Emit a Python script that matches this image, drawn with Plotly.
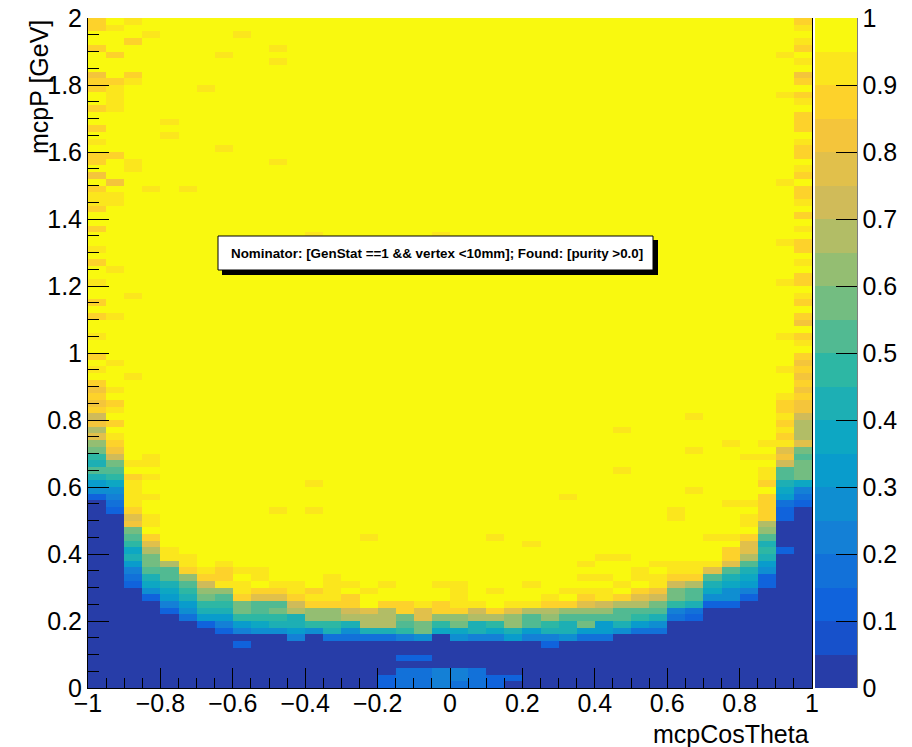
import numpy as np
import plotly.graph_objects as go

# ---- binning: 40 bins in cos(theta), 100 bins of 0.02 GeV in momentum ----
N_COS, N_P = 40, 100
cos_centers = np.linspace(-0.975, 0.975, N_COS)
p_centers = np.linspace(0.01, 1.99, N_P)

# efficiency of the fully efficient plateau and of the unreconstructed region
PLATEAU = 0.98
FLOOR = 0.02

# first momentum bin (index) of the turn-on in each cos(theta) column
ramp_start = [28, 26, 15, 13, 11, 10, 9, 8, 8, 8,
              8, 7, 8, 7, 7, 7, 7, 7, 7, 8,
              7, 7, 7, 7, 7, 6, 7, 7, 7, 8,
              8, 8, 10, 10, 12, 12, 13, 15, 25, 27]

# efficiency along the turn-on, bin by bin upward from ramp_start
ramps = [
    [0.12, 0.27, 0.32, 0.42, 0.52, 0.42, 0.47, 0.57, 0.62, 0.77, 0.67, 0.82, 0.72, 0.87, 0.82],
    [0.12, 0.17, 0.22, 0.27, 0.37, 0.47, 0.52, 0.57, 0.72, 0.82, 0.87, 0.92, 0.97, 0.87, 0.97, 0.92, 0.87],
    [0.12, 0.17, 0.22, 0.32, 0.42, 0.37, 0.47, 0.52, 0.57, 0.82, 0.77, 0.87, 0.92, 0.92, 0.92, 0.92, 0.87, 0.97, 0.92],
    [0.12, 0.27, 0.37, 0.42, 0.52, 0.57, 0.57, 0.67, 0.77, 0.87, 0.97, 0.92, 0.92],
    [0.12, 0.22, 0.32, 0.37, 0.42, 0.52, 0.52, 0.67, 0.92, 0.92],
    [0.17, 0.27, 0.32, 0.42, 0.47, 0.52, 0.62, 0.87, 0.92, 0.92],
    [0.12, 0.32, 0.42, 0.47, 0.57, 0.62, 0.72, 0.87, 0.92],
    [0.12, 0.22, 0.32, 0.42, 0.47, 0.52, 0.62, 0.92, 0.87, 0.87, 0.92],
    [0.22, 0.32, 0.47, 0.57, 0.57, 0.87, 0.92, 0.92, 0.97, 0.92],
    [0.27, 0.37, 0.47, 0.52, 0.52, 0.77, 0.87, 0.97, 0.92, 0.92],
    [0.27, 0.42, 0.47, 0.57, 0.52, 0.77, 0.87, 0.92],
    [0.22, 0.32, 0.42, 0.42, 0.67, 0.72, 0.87, 0.92, 0.92],
    [0.27, 0.47, 0.62, 0.62, 0.87, 0.92, 0.87],
    [0.17, 0.42, 0.47, 0.62, 0.62, 0.87, 0.92, 0.92, 0.92, 0.92],
    [0.17, 0.27, 0.42, 0.67, 0.72, 0.87, 0.87, 0.97, 0.92],
    [0.17, 0.42, 0.67, 0.67, 0.77, 0.97, 0.97, 0.92],
    [0.17, 0.42, 0.67, 0.67, 0.67, 0.87, 0.97, 0.97, 0.92],
    [0.22, 0.47, 0.52, 0.57, 0.87, 0.87],
    [0.27, 0.57, 0.57, 0.77, 0.77, 0.92],
    [0.37, 0.47, 0.62, 0.87, 0.87, 0.97, 0.97, 0.92],
    [0.27, 0.37, 0.57, 0.62, 0.87, 0.92, 0.92, 0.92, 0.92],
    [0.22, 0.42, 0.42, 0.67, 0.72, 0.92],
    [0.22, 0.37, 0.47, 0.67, 0.87, 0.97, 0.97, 0.92],
    [0.32, 0.42, 0.62, 0.62, 0.77, 0.92],
    [0.22, 0.32, 0.52, 0.52, 0.67, 0.92, 0.97, 0.97, 0.92],
    [0.12, 0.22, 0.42, 0.47, 0.62, 0.67, 0.87, 0.92],
    [0.27, 0.42, 0.42, 0.52, 0.62, 0.87, 0.97, 0.92],
    [0.17, 0.32, 0.57, 0.52, 0.62, 0.77, 0.87, 0.92, 0.97, 0.92],
    [0.17, 0.32, 0.32, 0.52, 0.62, 0.72, 0.92, 0.92, 0.97, 0.92],
    [0.27, 0.42, 0.52, 0.52, 0.67, 0.87, 0.97, 0.92],
    [0.17, 0.32, 0.47, 0.52, 0.67, 0.77, 0.87, 0.97, 0.92, 0.92],
    [0.17, 0.27, 0.42, 0.52, 0.57, 0.72, 0.82, 0.92, 0.92, 0.97, 0.92],
    [0.17, 0.22, 0.47, 0.57, 0.57, 0.72, 0.87, 0.92, 0.92],
    [0.12, 0.17, 0.42, 0.52, 0.52, 0.67, 0.87, 0.92, 0.92],
    [0.12, 0.27, 0.37, 0.42, 0.52, 0.77, 0.92, 0.97, 0.97, 0.97, 0.92],
    [0.12, 0.27, 0.27, 0.37, 0.42, 0.52, 0.77, 0.87, 0.87, 0.97, 0.92],
    [0.12, 0.22, 0.32, 0.37, 0.42, 0.52, 0.67, 0.77, 0.77, 0.87, 0.97, 0.92, 0.92],
    [0.12, 0.12, 0.27, 0.32, 0.42, 0.47, 0.42, 0.52, 0.62, 0.67, 0.87, 0.87, 0.87, 0.87,
     0.97, 0.87, 0.92, 0.92, 0.97, 0.92, 0.97, 0.92],
    [0.12, 0.12, 0.17, 0.32, 0.37, 0.42, 0.52, 0.52, 0.72, 0.82, 0.77, 0.92, 0.87, 0.92,
     0.87, 0.92, 0.87, 0.87],
    [0.12, 0.17, 0.22, 0.37, 0.57, 0.57, 0.57, 0.52, 0.57, 0.77, 0.67, 0.67, 0.67, 0.72,
     0.82, 0.82],
]

# slightly inefficient bins on the plateau: (column, row, efficiency)
plateau_dips = [
    # cos(theta) ~ -1 edge
    (0, 99, 0.87), (0, 98, 0.87), (0, 95, 0.87), (0, 91, 0.82), (0, 90, 0.87),
    (0, 89, 0.87), (0, 86, 0.87), (0, 83, 0.87), (0, 81, 0.92), (0, 79, 0.87),
    (0, 78, 0.87), (0, 76, 0.82), (0, 74, 0.87), (0, 73, 0.92), (0, 72, 0.92),
    (0, 71, 0.87), (0, 68, 0.87), (0, 65, 0.92), (0, 63, 0.87), (0, 60, 0.92),
    (0, 57, 0.87), (0, 55, 0.87), (0, 52, 0.92), (0, 49, 0.87), (0, 47, 0.92),
    (0, 45, 0.87), (0, 44, 0.82), (0, 43, 0.87),
    (1, 98, 0.92), (1, 94, 0.87), (1, 90, 0.87), (1, 89, 0.92), (1, 88, 0.92),
    (1, 87, 0.92), (1, 86, 0.92), (1, 79, 0.87), (1, 75, 0.82), (1, 73, 0.92),
    (1, 72, 0.92), (1, 62, 0.92), (1, 55, 0.92), (1, 48, 0.92), (1, 44, 0.92),
    (2, 99, 0.92), (2, 96, 0.87), (2, 91, 0.87), (2, 90, 0.92), (2, 78, 0.92),
    (2, 77, 0.92), (2, 58, 0.92), (2, 46, 0.92),
    (3, 97, 0.92), (3, 74, 0.92), (3, 34, 0.92), (3, 33, 0.92), (3, 31, 0.92), (3, 28, 0.92),
    (4, 84, 0.92), (4, 82, 0.92), (5, 74, 0.92), (6, 89, 0.92), (7, 94, 0.92),
    (7, 80, 0.92), (8, 97, 0.92), (10, 95, 0.92), (10, 93, 0.92), (10, 78, 0.92),
    # central region
    (10, 26, 0.92), (12, 26, 0.92), (12, 30, 0.92), (15, 22, 0.92), (12, 67, 0.92),
    (19, 67, 0.92), (22, 22, 0.92), (24, 21, 0.92), (26, 28, 0.92), (28, 19, 0.92),
    (29, 19, 0.92), (27, 18, 0.92), (30, 17, 0.92), (27, 16, 0.92), (28, 16, 0.92),
    (29, 38, 0.92), (29, 32, 0.92), (33, 40, 0.92), (33, 35, 0.92), (33, 29, 0.92),
    (35, 36, 0.92), (36, 34, 0.92), (35, 27, 0.92), (36, 27, 0.92), (32, 26, 0.92),
    (32, 25, 0.92), (34, 22, 0.92), (35, 22, 0.92),
    # cos(theta) ~ +1 edge
    (38, 43, 0.92), (38, 47, 0.92), (38, 52, 0.92), (38, 60, 0.92), (38, 66, 0.92),
    (38, 75, 0.92), (38, 88, 0.92), (38, 94, 0.92),
    (39, 99, 0.87), (39, 98, 0.92), (39, 96, 0.92), (39, 95, 0.87), (39, 93, 0.92),
    (39, 91, 0.82), (39, 90, 0.87), (39, 88, 0.87), (39, 87, 0.92), (39, 85, 0.87),
    (39, 84, 0.87), (39, 83, 0.87), (39, 81, 0.92), (39, 80, 0.87), (39, 79, 0.87),
    (39, 77, 0.92), (39, 76, 0.87), (39, 74, 0.87), (39, 73, 0.87), (39, 72, 0.92),
    (39, 70, 0.87), (39, 68, 0.92), (39, 66, 0.87), (39, 65, 0.87), (39, 63, 0.92),
    (39, 61, 0.87), (39, 60, 0.87), (39, 58, 0.92), (39, 57, 0.87), (39, 55, 0.87),
    (39, 54, 0.82), (39, 52, 0.87), (39, 51, 0.92), (39, 49, 0.87), (39, 48, 0.82),
    (39, 47, 0.87), (39, 46, 0.82), (39, 45, 0.87), (39, 44, 0.82), (39, 43, 0.87),
]

# isolated non-zero bins below the turn-on: (column, row, efficiency)
low_p_bins = [
    (8, 6, 0.12), (16, 0, 0.12), (16, 1, 0.12),
    (17, 0, 0.17), (17, 1, 0.17), (17, 2, 0.17), (17, 4, 0.12),
    (18, 0, 0.17), (18, 1, 0.17), (18, 2, 0.17), (18, 4, 0.12),
    (19, 0, 0.22), (19, 1, 0.22), (19, 2, 0.22),
    (20, 0, 0.17), (20, 1, 0.22), (20, 2, 0.22),
    (21, 0, 0.17), (21, 1, 0.17), (21, 2, 0.17),
    (22, 0, 0.12), (22, 1, 0.12), (23, 1, 0.12), (38, 20, 0.12),
]

x_tick_vals = [-1, -0.8, -0.6, -0.4, -0.2, 0, 0.2, 0.4, 0.6, 0.8, 1]
x_tick_text = ["\u22121", "\u22120.8", "\u22120.6", "\u22120.4", "\u22120.2", "0",
               "0.2", "0.4", "0.6", "0.8", "1"]
y_tick_vals = [0, 0.2, 0.4, 0.6, 0.8, 1, 1.2, 1.4, 1.6, 1.8, 2]
y_tick_text = ["0", "0.2", "0.4", "0.6", "0.8", "1", "1.2", "1.4", "1.6", "1.8", "2"]
z_tick_vals = [0, 0.1, 0.2, 0.3, 0.4, 0.5, 0.6, 0.7, 0.8, 0.9, 1]
z_tick_text = ["0", "0.1", "0.2", "0.3", "0.4", "0.5", "0.6", "0.7", "0.8", "0.9", "1"]

# ---- assemble the efficiency map (rows = momentum, columns = cos theta) ----
eff = np.full((N_P, N_COS), PLATEAU)
for c in range(N_COS):
    s = ramp_start[c]
    eff[:s, c] = FLOOR
    vals = ramps[c]
    eff[s:s + len(vals), c] = vals
for c, r, v in plateau_dips + low_p_bins:
    eff[r, c] = v

# ---- ROOT "kBird" palette sampled into 20 contour levels ----
stops = [0.0, 0.125, 0.25, 0.375, 0.5, 0.625, 0.75, 0.875, 1.0]
red = [0.2082, 0.0592, 0.0780, 0.0232, 0.1802, 0.5301, 0.8186, 0.9956, 0.9764]
green = [0.1664, 0.3599, 0.5041, 0.6419, 0.7178, 0.7492, 0.7328, 0.7862, 0.9832]
blue = [0.5293, 0.8684, 0.8385, 0.7914, 0.6425, 0.4662, 0.3499, 0.1968, 0.0539]
N_LEVELS = 20
level_colors = []
for k in range(N_LEVELS):
    f = int((k + 0.99) * 255 / N_LEVELS) / 255.0
    rgb = [int(round(255 * np.interp(f, stops, ch))) for ch in (red, green, blue)]
    level_colors.append("rgb({},{},{})".format(*rgb))
colorscale = []
for k, col in enumerate(level_colors):
    colorscale.append([k / N_LEVELS, col])
    colorscale.append([(k + 1) / N_LEVELS, col])

FONT = "Liberation Sans, Arial, Helvetica, sans-serif"
W, H = 912, 747
L, R, T, B = 88, 100, 18, 59
pw, ph = W - L - R, H - T - B


def px_x(x):
    return (x - L) / pw


def px_y(y):
    return (H - B - y) / ph


fig = go.Figure(go.Heatmap(
    x=cos_centers, y=p_centers, z=eff,
    zmin=0, zmax=1, colorscale=colorscale,
    colorbar=dict(
        x=px_x(815), xanchor="left", xpad=0, y=0.5, yanchor="middle", ypad=0,
        len=1, lenmode="fraction", thickness=42, thicknessmode="pixels",
        outlinewidth=0, ticks="inside", ticklen=21, tickwidth=1, tickcolor="black",
        tickvals=z_tick_vals, ticktext=z_tick_text,
        tickfont=dict(family=FONT, size=25, color="black"),
    ),
    hoverinfo="skip",
))

axis_common = dict(
    ticks="inside", tickcolor="black", tickwidth=1,
    showgrid=False, zeroline=False, showline=True, linecolor="black", linewidth=1,
    tickfont=dict(family=FONT, size=25, color="black"),
)
fig.update_xaxes(range=[-1, 1], tickvals=x_tick_vals, ticktext=x_tick_text, ticklen=20,
                 ticklabelstandoff=-7,
                 minor=dict(dtick=0.05, tick0=-1, ticks="inside", ticklen=10,
                            tickcolor="black", showgrid=False),
                 **axis_common)
fig.update_yaxes(range=[0, 2], tickvals=y_tick_vals, ticktext=y_tick_text, ticklen=21,
                 mirror=True,
                 minor=dict(dtick=0.05, tick0=0, ticks="inside", ticklen=11,
                            tickcolor="black", showgrid=False),
                 **axis_common)

shapes = [
    # right border of the palette axis
    dict(type="line", xref="paper", yref="paper", x0=px_x(857), x1=px_x(857),
         y0=0, y1=1, line=dict(color="black", width=1)),
    # legend box shadow and box
    dict(type="rect", xref="paper", yref="paper", layer="above",
         x0=px_x(222), x1=px_x(658), y0=px_y(275), y1=px_y(240),
         fillcolor="black", line=dict(width=0)),
    dict(type="rect", xref="paper", yref="paper", layer="above",
         x0=px_x(218), x1=px_x(653), y0=px_y(270), y1=px_y(236),
         fillcolor="white", line=dict(color="black", width=1)),
]

annotations = [
    dict(text="Nominator: [GenStat ==1 && vertex <10mm]; Found: [purity >0.0]",
         xref="paper", yref="paper", x=px_x(437), y=px_y(253), xanchor="center",
         yanchor="middle", showarrow=False,
         font=dict(family=FONT, size=13.4, color="black", weight="bold")),
    dict(text="mcpCosTheta", xref="paper", yref="paper", x=px_x(811), y=px_y(734),
         xanchor="right", yanchor="middle", showarrow=False,
         font=dict(family=FONT, size=25, color="black")),
    dict(text="mcpP [GeV]", xref="paper", yref="paper", x=px_x(39), y=px_y(18),
         xanchor="center", yanchor="top", textangle=-90, showarrow=False,
         font=dict(family=FONT, size=25, color="black")),
]

fig.update_layout(
    width=W, height=H, margin=dict(l=L, r=R, t=T, b=B, autoexpand=False),
    paper_bgcolor="white", plot_bgcolor="white",
    shapes=shapes, annotations=annotations, showlegend=False,
)

fig.write_html("out.html")
